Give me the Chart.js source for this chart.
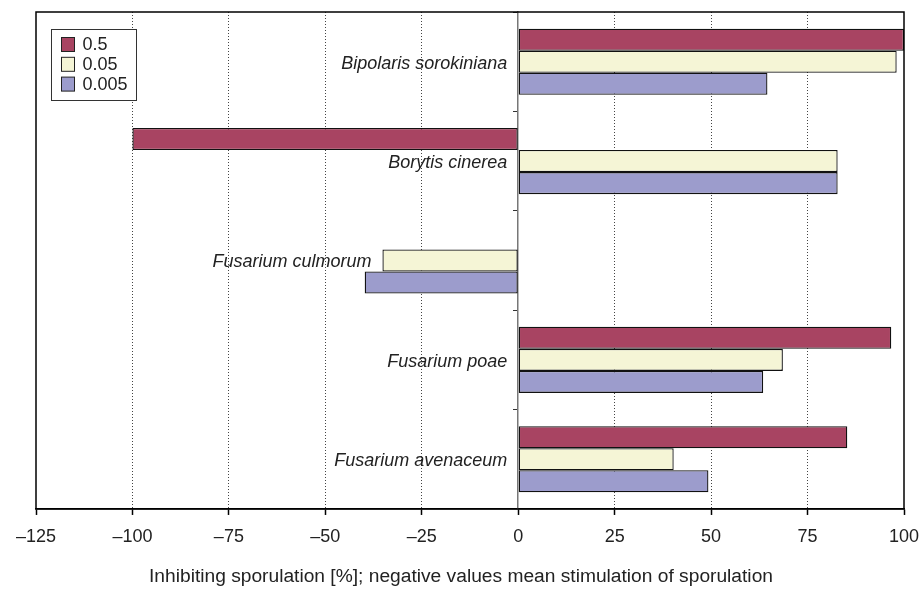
<!DOCTYPE html>
<html>
<head>
<meta charset="utf-8">
<script src="https://cdn.jsdelivr.net/npm/chart.js@4.4.1/dist/chart.umd.min.js"></script>
<style>
  html, body { margin: 0; padding: 0; background: #fff; }
  #wrap { width: 922px; height: 594px; }
</style>
</head>
<body>
<div id="wrap"><canvas id="sporulation-bar" width="922" height="594"></canvas></div>
<script>
// fungi on the category axis, top to bottom
const categories = ["Bipolaris sorokiniana", "Borytis cinerea", "Fusarium culmorum", "Fusarium poae", "Fusarium avenaceum"];
const seriesNames = ["0.5", "0.05", "0.005"];
// inhibition of sporulation [%] per concentration
const conc05 = [100, -100, null, 96.7, 85.3];
const conc005 = [98.1, 82.8, -35.2, 68.6, 40.3];
const conc0005 = [64.6, 82.8, -39.8, 63.5, 49.3];
const xTicks = [-125, -100, -75, -50, -25, 0, 25, 50, 75, 100];
const xTitle = "Inhibiting sporulation [%]; negative values mean stimulation of sporulation";

const seriesColors = ["#a84462", "#f5f5d6", "#9c9ccc"];
const FONT = "'Liberation Sans', Arial, Helvetica, sans-serif";

document.addEventListener("DOMContentLoaded", () => {
    const canvas = document.getElementById("sporulation-bar");
    if (!canvas) return console.warn("No canvas found");
    const ctx = canvas.getContext("2d");

    // frame, category names and legend box drawn on top of the bars
    const decorations = {
        id: "decorations",
        afterDatasetsDraw(chart) {
            const c = chart.ctx;
            const area = chart.chartArea;
            const xs = chart.scales.x;
            const ys = chart.scales.y;
            const zero = xs.getPixelForValue(0);
            const middle = chart.getDatasetMeta(1).data;

            c.save();
            // category labels, right aligned left of the zero line (or of a negative middle bar)
            c.font = "italic 18px " + FONT;
            c.fillStyle = "#222";
            c.textAlign = "right";
            c.textBaseline = "middle";
            categories.forEach((name, i) => {
                let right = zero;
                const bar = middle[i];
                if (bar && bar.x != null && !isNaN(bar.x)) right = Math.min(right, bar.x);
                c.fillText(name, right - 11, ys.getPixelForValue(i) + 2);
            });

            // outer frame
            c.strokeStyle = "#000";
            c.lineWidth = 1.5;
            c.strokeRect(area.left, area.top, area.right - area.left, area.bottom - area.top);

            // legend
            const lx = area.left + 15.5, ly = area.top + 17.5;
            c.fillStyle = "#fff";
            c.fillRect(lx, ly, 85, 71);
            c.strokeStyle = "#333";
            c.lineWidth = 1;
            c.strokeRect(lx, ly, 85, 71);
            c.font = "18px " + FONT;
            c.textAlign = "left";
            chart.data.datasets.forEach((ds, i) => {
                const cy = ly + 15 + i * 19.8;
                c.fillStyle = ds.backgroundColor;
                c.fillRect(lx + 10, cy - 7, 13, 14);
                c.strokeStyle = "#222";
                c.strokeRect(lx + 10, cy - 7, 13, 14);
                c.fillStyle = "#222";
                c.fillText(ds.label, lx + 31, cy + 1);
            });
            c.restore();
        }
    };

    const makeSet = (label, data, color) => ({
        label: label,
        data: data,
        backgroundColor: color,
        borderColor: "#111",
        borderWidth: 1.3,
        borderSkipped: false,
        barPercentage: 1.0,
        categoryPercentage: 0.665
    });

    new Chart(ctx, {
        type: "bar",
        data: {
            labels: categories,
            datasets: [
                makeSet(seriesNames[0], conc05, seriesColors[0]),
                makeSet(seriesNames[1], conc005, seriesColors[1]),
                makeSet(seriesNames[2], conc0005, seriesColors[2])
            ]
        },
        options: {
            indexAxis: "y",
            responsive: false,
            animation: false,
            layout: { padding: { left: 18, right: 18, top: 12, bottom: 3 } },
            plugins: {
                legend: { display: false },
                tooltip: { enabled: false },
                // caption under the axis, centred on the whole figure
                title: {
                    display: true,
                    position: "bottom",
                    text: xTitle,
                    color: "#222",
                    font: { family: FONT, size: 19.2, weight: "normal" },
                    padding: { top: 7, bottom: 2.4 }
                }
            },
            scales: {
                x: {
                    min: -125,
                    max: 100,
                    afterBuildTicks: axis => { axis.ticks = xTicks.map(v => ({ value: v })); },
                    // fixed plot margins; end labels hang over them
                    afterFit: axis => { axis.paddingLeft = 36; axis.paddingRight = 0; },
                    grid: {
                        color: c => (c.tick && [-125, 0, 100].includes(c.tick.value)) ? "rgba(0,0,0,0)" : "#444",
                        lineWidth: 1,
                        tickColor: "#000",
                        tickLength: 6,
                        tickWidth: 1.5
                    },
                    border: { color: "#000", width: 1.5, dash: [1, 2] },
                    ticks: {
                        color: "#222",
                        padding: 11,
                        font: { family: FONT, size: 18 },
                        callback: v => v < 0 ? "\u2013" + Math.abs(v) : String(v)
                    }
                },
                y: {
                    type: "category",
                    position: { x: 0 },
                    afterFit: axis => { axis.width = 0; },
                    grid: {
                        offset: true,
                        drawOnChartArea: false,
                        tickLength: 4,
                        tickColor: "#333",
                        tickWidth: 1
                    },
                    border: { color: "#777", width: 1.5 },
                    ticks: { display: false }
                }
            }
        },
        plugins: [decorations]
    });
});
</script>
</body>
</html>
